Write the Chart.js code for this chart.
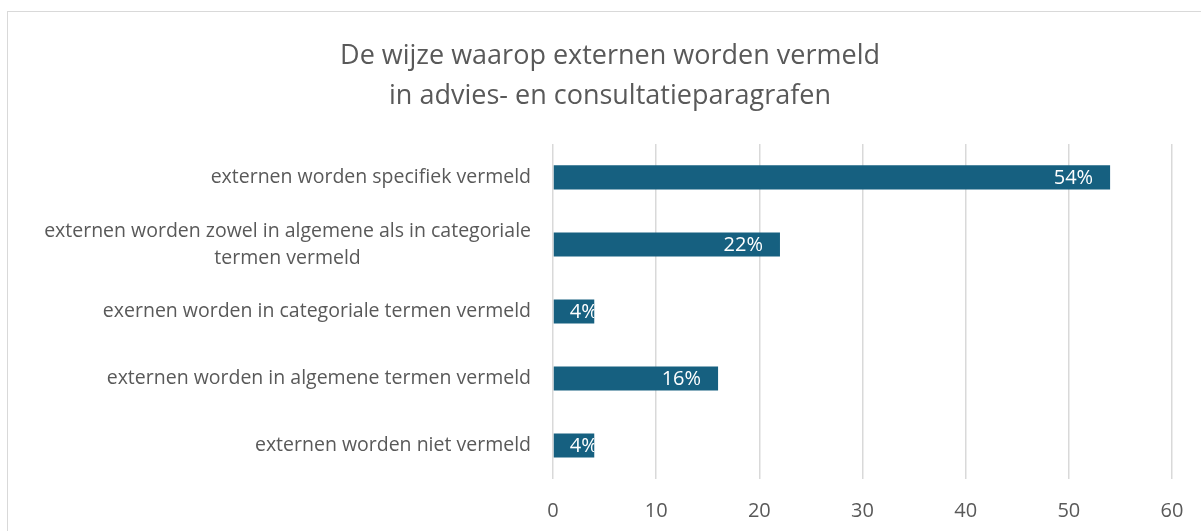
<!DOCTYPE html>
<html>
<head>
<meta charset="utf-8">
<script src="https://cdn.jsdelivr.net/npm/chart.js@4.4.0/dist/chart.umd.min.js"></script>
<style>
    html, body { margin: 0; padding: 0; background: #fff; overflow: hidden; }
    #box {
        position: absolute; left: 7px; top: 11px;
        width: 1204px; height: 551px;
        border: 1px solid #d9d9d9;
    }
    #myChart { display: block; }
</style>
</head>
<body>
<div id="box"><canvas id="myChart" width="1204" height="551"></canvas></div>
<script>
// data
var categories = [
    'externen worden specifiek vermeld',
    ['externen worden zowel in algemene als in categoriale', 'termen vermeld'],
    'exernen worden in categoriale termen vermeld',
    'externen worden in algemene termen vermeld',
    'externen worden niet vermeld'
];
var percentages = [54, 22, 4, 16, 4];
var xMin = 0, xMax = 60, xStep = 10;

var titleLines = ['De wijze waarop externen worden vermeld', 'in advies- en consultatieparagrafen'];

var textColor = '#595959';
var fontFamily = "'Open Sans', 'Liberation Sans', sans-serif";

// y labels: right aligned block, lines centered inside it (like Excel)
var categoryLabels = {
    id: 'categoryLabels',
    afterDraw: function (chart) {
        var ctx = chart.ctx;
        var scale = chart.scales.y;
        var right = scale.right - 22;
        ctx.save();
        ctx.font = '19.5px ' + fontFamily;
        ctx.fillStyle = textColor;
        ctx.textAlign = 'center';
        ctx.textBaseline = 'middle';
        for (var i = 0; i < categories.length; i++) {
            var lines = Array.isArray(categories[i]) ? categories[i] : [categories[i]];
            var w = 0;
            lines.forEach(function (l) { w = Math.max(w, ctx.measureText(l).width); });
            var cx = right - w / 2;
            var y = scale.getPixelForTick(i);
            for (var j = 0; j < lines.length; j++) {
                ctx.fillText(lines[j], cx, y + (j - (lines.length - 1) / 2) * 27);
            }
        }
        ctx.restore();
    }
};

// value labels inside the bar end, clipped to the bar
var valueLabels = {
    id: 'valueLabels',
    afterDatasetsDraw: function (chart) {
        var ctx = chart.ctx;
        var meta = chart.getDatasetMeta(0);
        ctx.save();
        ctx.font = '20px ' + fontFamily;
        ctx.fillStyle = '#ffffff';
        ctx.textAlign = 'left';
        ctx.textBaseline = 'middle';
        meta.data.forEach(function (bar, i) {
            var txt = percentages[i] + '%';
            var w = ctx.measureText(txt).width;
            var x = Math.max(bar.x - 17 - w, bar.base + 16);
            ctx.save();
            ctx.beginPath();
            ctx.rect(bar.base, bar.y - bar.height / 2, bar.x - bar.base, bar.height);
            ctx.clip();
            ctx.fillText(txt, x, bar.y + 1);
            ctx.restore();
        });
        ctx.restore();
    }
};

var ctx = document.getElementById('myChart');

var myChart = new Chart(ctx, {
    type: 'bar',
    data: {
        labels: categories,
        datasets: [{
            label: 'Percentage',
            data: percentages,
            backgroundColor: '#166080',
            borderWidth: 0,
            barPercentage: 0.36,
            categoryPercentage: 1
        }]
    },
    options: {
        indexAxis: 'y',
        responsive: false,
        maintainAspectRatio: false,
        animation: false,
        layout: { padding: { left: 0, right: 0, top: 0, bottom: 20 } },
        plugins: {
            legend: { display: false },
            tooltip: { enabled: false },
            title: {
                display: true,
                text: titleLines,
                color: textColor,
                font: { family: fontFamily, size: 27, weight: 'normal', lineHeight: 1.48 },
                padding: { top: 24, bottom: 28 }
            }
        },
        scales: {
            x: {
                min: xMin,
                max: xMax,
                border: { display: false },
                grid: { color: '#d9d9d9', lineWidth: 1.5, drawTicks: false },
                ticks: {
                    stepSize: xStep,
                    color: textColor,
                    padding: 20,
                    font: { family: fontFamily, size: 20 }
                }
            },
            y: {
                border: { display: false },
                grid: { display: false },
                ticks: { display: false },
                afterFit: function (scale) { scale.width = 545; }
            },
            // empty right margin so the title stays centred on the whole canvas
            spacer: {
                type: 'linear',
                axis: 'y',
                position: 'right',
                border: { display: false },
                grid: { display: false },
                ticks: { display: false },
                afterFit: function (scale) { scale.width = 40; }
            }
        }
    },
    plugins: [categoryLabels, valueLabels]
});
</script>
</body>
</html>
